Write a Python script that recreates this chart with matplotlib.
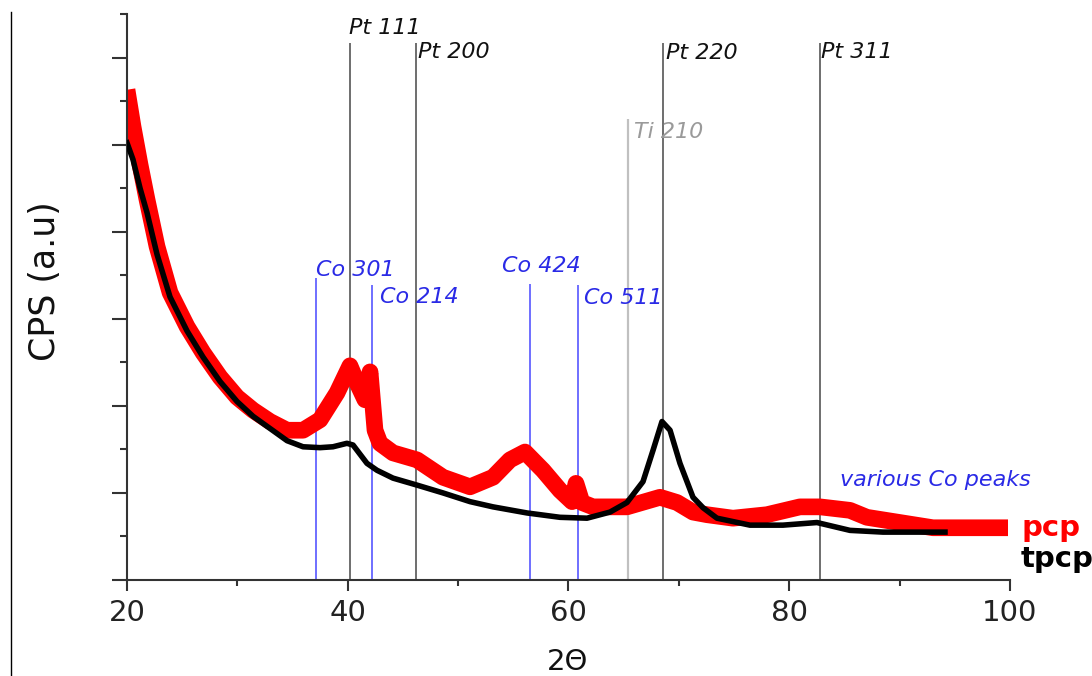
import numpy as np
import matplotlib
matplotlib.use("Agg")
import matplotlib.pyplot as plt
from matplotlib.lines import Line2D

# pcp pattern (red)
pcp_x = [20.0, 20.54, 21.18, 21.81, 22.72, 23.90, 25.44, 26.89, 28.43, 29.97,
         31.42, 32.96, 34.50, 35.95, 37.49, 39.03, 40.20, 40.93, 41.56, 42.02,
         42.47, 42.92, 44.10, 46.27, 48.63, 51.08, 53.16, 54.70, 56.06, 57.69,
         59.23, 60.32, 60.68, 61.22, 62.22, 65.30, 68.29, 69.83, 71.28, 72.55,
         74.90, 77.98, 80.97, 82.79, 85.50, 87.04, 90.03, 93.02, 96.10, 99.82]
pcp_y = [5.63, 5.21, 4.77, 4.37, 3.83, 3.30, 2.91, 2.61, 2.33, 2.10,
         1.95, 1.82, 1.72, 1.72, 1.84, 2.15, 2.46, 2.24, 2.07, 2.39,
         1.72, 1.57, 1.46, 1.38, 1.18, 1.07, 1.18, 1.38, 1.47, 1.26,
         1.03, 0.90, 1.11, 0.89, 0.84, 0.84, 0.95, 0.89, 0.78, 0.75,
         0.71, 0.75, 0.84, 0.84, 0.80, 0.72, 0.66, 0.60, 0.60, 0.60]

# tpcp pattern (black)
tpcp_x = [20.0, 20.54, 21.18, 21.81, 22.72, 23.90, 25.44, 26.89, 28.43, 29.97,
          31.42, 32.96, 34.50, 35.95, 37.49, 38.66, 39.93, 40.48, 41.74, 42.65,
          44.10, 46.27, 48.63, 51.08, 53.16, 56.24, 59.23, 61.68, 63.76, 65.30,
          66.75, 67.66, 68.47, 69.20, 70.10, 71.28, 72.19, 73.45, 76.44, 79.43,
          82.51, 85.50, 88.49, 91.57, 94.11]
tpcp_y = [5.02, 4.83, 4.50, 4.22, 3.74, 3.25, 2.86, 2.56, 2.28, 2.05,
          1.88, 1.74, 1.60, 1.53, 1.52, 1.53, 1.57, 1.55, 1.34, 1.26,
          1.17, 1.09, 1.00, 0.90, 0.84, 0.77, 0.72, 0.71, 0.78, 0.89,
          1.13, 1.49, 1.82, 1.72, 1.34, 0.95, 0.83, 0.71, 0.63, 0.63,
          0.66, 0.57, 0.55, 0.55, 0.55]

# reference peak lines
pt_names = ["Pt 111", "Pt 200", "Pt 220", "Pt 311"]
pt_pos = [40.2, 46.2, 68.6, 82.8]
pt_top = [6.17, 6.17, 6.17, 6.17]

ti_names = ["Ti 210"]
ti_pos = [65.4]
ti_top = [5.29]

co_names = ["Co 301", "Co 214", "Co 424", "Co 511"]
co_pos = [37.1, 42.2, 56.5, 60.9]
co_top = [3.47, 3.39, 3.40, 3.39]

# figure
fig = plt.figure(figsize=(10.92, 6.76), dpi=100)
ax = fig.add_axes([0.1163, 0.142, 0.8086, 0.8373])

ax.set_xlim(20, 100)
ax.set_ylim(0, 6.5)

# peak markers
ax.vlines(pt_pos, 0, pt_top, color="#555555", lw=1.2, zorder=1)
ax.vlines(ti_pos, 0, ti_top, color="#c0c0c0", lw=1.6, zorder=1)
ax.vlines(co_pos, 0, co_top, color="#6f6fff", lw=1.4, zorder=1)

# patterns
ax.plot(pcp_x, pcp_y, color="#ff0000", lw=12, solid_joinstyle="round",
        solid_capstyle="butt", zorder=2)
ax.plot(tpcp_x, tpcp_y, color="black", lw=4, solid_joinstyle="round", zorder=3)

# labels of peaks
lab_kw = dict(fontsize=16, style="italic", va="center", ha="left")
pt_lab_x = [40.15, 46.35, 68.85, 82.9]
pt_lab_y = [6.34, 6.06, 6.05, 6.06]
for name, lx, ly in zip(pt_names, pt_lab_x, pt_lab_y):
    ax.text(lx, ly, name, color="#111111", **lab_kw)
ax.text(65.9, 5.15, ti_names[0], color="#9a9a9a", **lab_kw)
co_lab_x = [37.1, 42.9, 54.0, 61.4]
co_lab_y = [3.56, 3.25, 3.61, 3.24]
for name, lx, ly in zip(co_names, co_lab_x, co_lab_y):
    ax.text(lx, ly, name, color="#2a2ae6", **lab_kw)
ax.text(84.6, 1.15, "various Co peaks", color="#2a2ae6", **lab_kw)

# series names at the right end
ax.text(101.0, 0.50, "pcp", color="#ff0000", fontsize=21, fontweight="bold",
        va="baseline", ha="left", clip_on=False)
ax.text(101.0, 0.15, "tpcp", color="black", fontsize=21, fontweight="bold",
        va="baseline", ha="left", clip_on=False)

# axes style
for s in ["top", "right"]:
    ax.spines[s].set_visible(False)
for s in ["left", "bottom"]:
    ax.spines[s].set_linewidth(1.5)
    ax.spines[s].set_color("#333333")

ax.set_xticks([20, 40, 60, 80, 100])
ax.set_xticks([30, 50, 70, 90], minor=True)
ax.set_yticks(np.arange(0, 7, 1))
ax.set_yticks(np.arange(0.5, 7, 1), minor=True)
ax.set_yticklabels([])
ax.tick_params(axis="x", which="major", direction="out", length=8, width=1.5,
               color="#333333", labelsize=21, labelcolor="#222222", pad=6)
ax.tick_params(axis="x", which="minor", direction="out", length=4, width=1.5,
               color="#333333")
ax.tick_params(axis="y", which="major", direction="out", length=11, width=1.5,
               color="#333333")
ax.tick_params(axis="y", which="minor", direction="out", length=5, width=1.5,
               color="#333333")

ax.set_ylabel("CPS (a.u)", fontsize=25, color="#111111", va="center")
ax.yaxis.set_label_coords(-0.093, 0.528)
ax.set_xlabel("2\u0398", fontsize=21, color="#111111", va="center")
ax.xaxis.set_label_coords(0.4994, -0.145)

# thin border line at the far left of the picture
fig.add_artist(Line2D([10.5 / 1092, 10.5 / 1092], [0, 1 - 12 / 676],
                      color="black", lw=1.0))

fig.savefig("out.png", dpi=100)
